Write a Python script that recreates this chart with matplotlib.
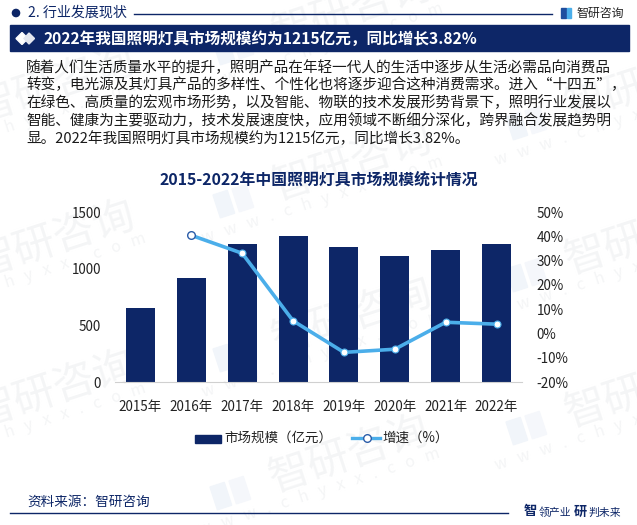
import matplotlib
matplotlib.use('Agg')
import matplotlib.pyplot as plt
from matplotlib.patches import Rectangle, Polygon, Circle

plt.rcParams['font.family'] = ['Noto Sans CJK SC', 'DejaVu Sans']

years = ['2015年', '2016年', '2017年', '2018年', '2019年', '2020年', '2021年', '2022年']
scale = [653, 918, 1218, 1288, 1191, 1112, 1165, 1215]
growth = [None, 40.4, 33.0, 5.2, -7.8, -6.5, 4.6, 3.82]
left_ticks = [0, 500, 1000, 1500]
right_ticks = [-20, -10, 0, 10, 20, 30, 40, 50]
body_lines = [
    '随着人们生活质量水平的提升，照明产品在年轻一代人的生活中逐步从生活必需品向消费品',
    '转变，电光源及其灯具产品的多样性、个性化也将逐步迎合这种消费需求。进入“十四五”，',
    '在绿色、高质量的宏观市场形势，以及智能、物联的技术发展形势背景下，照明行业发展以',
    '智能、健康为主要驱动力，技术发展速度快，应用领域不断细分深化，跨界融合发展趋势明',
    '显。2022年我国照明灯具市场规模约为1215亿元，同比增长3.82%。',
]
wm_anchors = [(-70, 125), (-70, 280), (-70, 430), (227, 50), (227, 203), (227, 357), (224, 495),
              (520, 125), (520, 277), (520, 430)]

NAVY = '#0D2667'
BLUE = '#4BAEEA'
WM = '#F4F5F6'
W, H = 637, 525
fig = plt.figure(figsize=(W / 100, H / 100), dpi=100)
bg = fig.add_axes([0, 0, 1, 1])
bg.set_xlim(0, W)
bg.set_ylim(H, 0)
bg.axis('off')
bg.autoscale(False)

# watermarks
for x, y in wm_anchors:
    bg.text(x + 125, y - 40, '智研咨询', fontsize=30, color=WM, rotation=18, ha='center', va='center',
            zorder=0, rotation_mode='anchor', fontweight='light')
    bg.text(x + 95, y - 3, '   '.join('www.chyxx.com'), fontsize=11.5, color=WM, rotation=18,
            ha='center', va='center', zorder=0, rotation_mode='anchor')
    bg.add_patch(Rectangle((x - 14, y - 8), 15, 24, color='#F1F5FA', angle=-18, zorder=0))
    bg.add_patch(Rectangle((x + 5, y - 14), 15, 24, color='#F5F7FB', angle=-18, zorder=0))

# header
bg.add_patch(Circle((16, 13), 3.6, color=NAVY, zorder=2))
bg.text(28.5, 13, '2. 行业发展现状', fontsize=10.1, color=NAVY, va='center', fontweight='medium', zorder=3)
bg.plot([134, 552], [13.5, 13.5], color=NAVY, lw=1, zorder=2)
bg.add_patch(Rectangle((561, 8), 4.5, 10, color='#1F4E9E', zorder=2))
bg.add_patch(Rectangle((566.5, 8), 4.5, 10, color=BLUE, zorder=2))
bg.text(576.5, 13.5, '智研咨询', fontsize=8.6, color='#222222', va='center', fontweight='medium', zorder=3)

# banner
bg.add_patch(Rectangle((10, 25), 619, 26, color=NAVY, zorder=2))
bg.add_patch(Polygon([(16, 38.5), (22, 32.5), (28, 38.5), (22, 44.5)], color='white', zorder=3))
bg.add_patch(Polygon([(24, 38.5), (29, 33), (34.5, 38.5), (29, 44)], color='#E4E7EF', zorder=3))
bg.text(43, 38.5, '2022年我国照明灯具市场规模约为1215亿元，同比增长3.82%', fontsize=11.25, color='white',
        va='center', fontweight='bold', zorder=4)

# body
for i, line in enumerate(body_lines):
    bg.text(26, 67.5 + i * 17.7, line, fontsize=10.55, color='#1A1A1A', va='center', zorder=3)

bg.text(319, 180, '2015-2022年中国照明灯具市场规模统计情况', fontsize=11.4, color=NAVY, ha='center',
        va='center', fontweight='bold', zorder=3)

# chart
ax = fig.add_axes([115 / W, 1 - 382 / H, 407 / W, 170 / H])
ax.patch.set_alpha(0)
xs = list(range(len(years)))
bars = ax.bar(xs, scale, width=0.57, color=NAVY, label='市场规模（亿元）')
ax.set_xlim(-0.5, 7.5)
ax.set_ylim(0, 1500)
ax.set_yticks(left_ticks)
ax.set_xticks(xs, years)
ax.tick_params(axis='both', length=0, labelsize=9.7, labelcolor='#222222')
ax.tick_params(axis='x', pad=13)
ax.tick_params(axis='y', pad=10)
for s in ['top', 'left', 'right']:
    ax.spines[s].set_visible(False)
ax.spines['bottom'].set_color('#D0D0D0')

ax2 = ax.twinx()
ax2.patch.set_alpha(0)
gx = [x for x, g in zip(xs, growth) if g is not None]
gy = [g for g in growth if g is not None]
ax2.plot(gx, gy, color=BLUE, lw=2.6, zorder=3)
ax2.plot(gx[0:1], gy[0:1], 'o', ms=5.5, mfc='white', mec='#2A5CA8', mew=1, zorder=4)
ax2.plot(gx[1:], gy[1:], 'o', ms=5, mfc='white', mec=BLUE, mew=0.8, zorder=4)
ax2.set_ylim(-20, 50)
ax2.set_yticks(right_ticks, [f'{t}%' for t in right_ticks])
ax2.tick_params(axis='y', length=0, labelsize=9.7, labelcolor='#222222', pad=10.5)
for s in ax2.spines.values():
    s.set_visible(False)

# legend
bg.add_patch(Rectangle((195, 435), 26, 8, color=NAVY, zorder=2))
bg.text(224, 437.5, '市场规模（亿元）', fontsize=9.7, color='#222222', va='center', zorder=3)
bg.plot([352, 380], [438, 438], color=BLUE, lw=2.4, zorder=2)
bg.plot([366.5], [438], 'o', ms=5.5, mfc='white', mec='#2A5CA8', mew=1, zorder=3)
bg.text(382, 437.5, '增速（%）', fontsize=9.7, color='#222222', va='center', zorder=3)

# footer
bg.text(27, 501.5, '资料来源：智研咨询', fontsize=9.8, color=NAVY, va='center', zorder=3)
bg.plot([10, 508], [513, 513], color=NAVY, lw=1, zorder=2)
bg.text(524, 511.5, '智', fontsize=9.5, color=NAVY, va='center', fontweight='bold', zorder=3)
bg.text(538.5, 512.5, '领产业', fontsize=7.8, color=NAVY, va='center', zorder=3)
bg.text(574, 511.5, '研', fontsize=9.5, color=NAVY, va='center', fontweight='bold', zorder=3)
bg.text(588.5, 512.5, '判未来', fontsize=7.8, color=NAVY, va='center', zorder=3)

fig.savefig('out.png', dpi=100)
